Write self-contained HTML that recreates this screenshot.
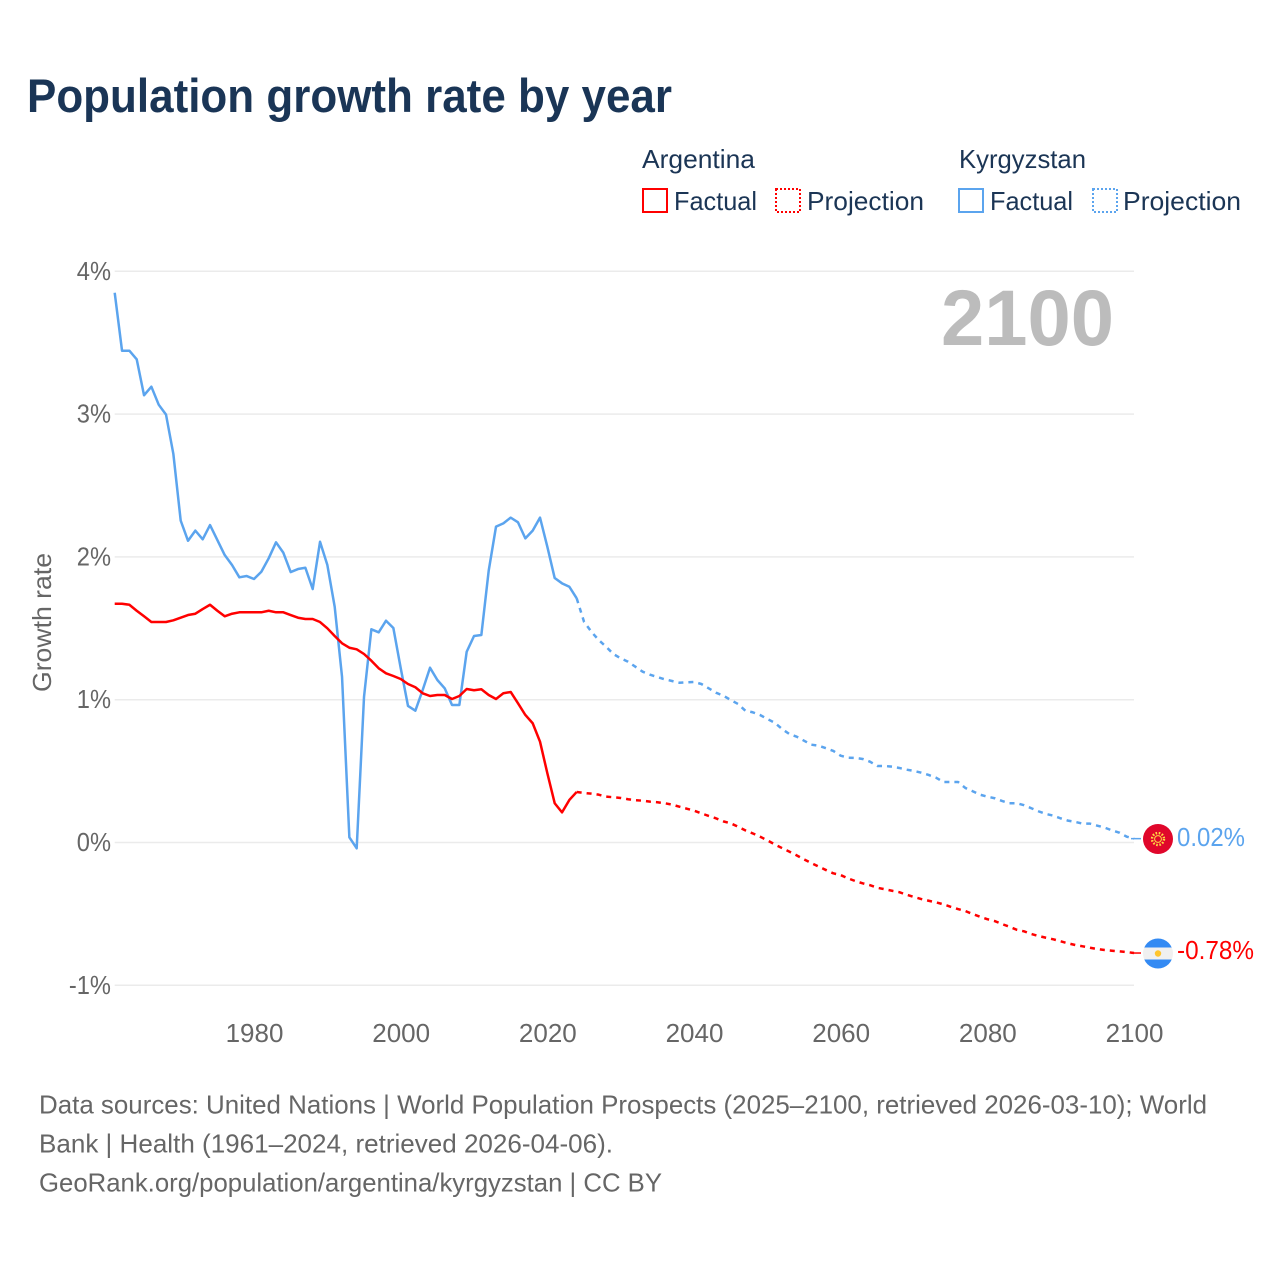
<!DOCTYPE html>
<html lang="en">
<head>
<meta charset="utf-8">
<title>Population growth rate by year</title>
<style>
html,body{margin:0;padding:0;background:#fff}
svg{display:block}
text{font-family:"Liberation Sans",sans-serif}
.leg{font-size:26px;fill:#1b3555}
.foot{font-size:26px;fill:#666}
.tick{font-size:26px;fill:#666}
</style>
</head>
<body>
<svg id="chart" xmlns="http://www.w3.org/2000/svg" width="1280" height="1280" viewBox="0 0 1280 1280">
  <rect width="1280" height="1280" fill="#fff"/>
  <text x="27" y="112" font-size="47" font-weight="700" fill="#1a3556" textLength="645" lengthAdjust="spacingAndGlyphs">Population growth rate by year</text>

  <g>
    <text class="leg" x="642" y="168" textLength="113" lengthAdjust="spacingAndGlyphs">Argentina</text>
    <rect x="643" y="189" width="24" height="23" fill="none" stroke="#ff0000" stroke-width="2"/>
    <text class="leg" x="674" y="210" textLength="83" lengthAdjust="spacingAndGlyphs">Factual</text>
    <rect x="776" y="189" width="24" height="23" fill="none" stroke="#ff0000" stroke-width="2" stroke-dasharray="2 2"/>
    <text class="leg" x="807" y="210" textLength="117" lengthAdjust="spacingAndGlyphs">Projection</text>
    <text class="leg" x="959" y="168" textLength="127" lengthAdjust="spacingAndGlyphs">Kyrgyzstan</text>
    <rect x="959" y="189" width="24" height="23" fill="none" stroke="#5ba4ee" stroke-width="2"/>
    <text class="leg" x="990" y="210" textLength="83" lengthAdjust="spacingAndGlyphs">Factual</text>
    <rect x="1093" y="189" width="24" height="23" fill="none" stroke="#5ba4ee" stroke-width="2" stroke-dasharray="2 2"/>
    <text class="leg" x="1123" y="210" textLength="118" lengthAdjust="spacingAndGlyphs">Projection</text>
  </g>

  <g id="grid"></g>
  <g id="yticks"></g>
  <g id="xticks"></g>
  <text transform="translate(51,622.5) rotate(-90)" text-anchor="middle" font-size="26" fill="#666" textLength="139" lengthAdjust="spacingAndGlyphs">Growth rate</text>
  <text x="941" y="345" font-size="79" font-weight="700" fill="#bcbcbc" textLength="173" lengthAdjust="spacingAndGlyphs">2100</text>

  <g id="series"></g>

  <g>
    <circle cx="1158" cy="839" r="15" fill="#e0072b"/>
    <circle cx="1158" cy="839" r="6" fill="none" stroke="#ffda44" stroke-width="2.4" stroke-dasharray="1.6 1.6"/>
    <circle cx="1158" cy="839" r="3.4" fill="none" stroke="#ffda44" stroke-width="1"/>
  </g>
  <g>
    <clipPath id="argClip"><circle cx="1158" cy="953.5" r="15"/></clipPath>
    <g clip-path="url(#argClip)">
      <rect x="1143" y="938" width="30" height="9.5" fill="#338af3"/>
      <rect x="1143" y="947.5" width="30" height="12" fill="#f0f0f0"/>
      <rect x="1143" y="959.5" width="30" height="10" fill="#338af3"/>
    </g>
    <circle cx="1158" cy="953.5" r="3.2" fill="#ffc52e"/>
  </g>
  <text x="1177" y="846" font-size="26" fill="#5ba4ee" textLength="68" lengthAdjust="spacingAndGlyphs">0.02%</text>
  <text x="1177" y="959" font-size="26" fill="#ff0000" textLength="77" lengthAdjust="spacingAndGlyphs">-0.78%</text>

  <g>
    <text class="foot" x="39" y="1113.5" textLength="1168" lengthAdjust="spacingAndGlyphs">Data sources: United Nations | World Population Prospects (2025–2100, retrieved 2026-03-10); World</text>
    <text class="foot" x="39" y="1152.5" textLength="574" lengthAdjust="spacingAndGlyphs">Bank | Health (1961–2024, retrieved 2026-04-06).</text>
    <text class="foot" x="39" y="1191.5" textLength="623" lengthAdjust="spacingAndGlyphs">GeoRank.org/population/argentina/kyrgyzstan | CC BY</text>
  </g>
</svg>

<script>
var factualStartYear = 1961;
var projectionStartYear = 2024;
var yTickValues = [4, 3, 2, 1, 0, -1];
var yTickLabels = ["4%", "3%", "2%", "1%", "0%", "-1%"];
var xTickYears = [1980, 2000, 2020, 2040, 2060, 2080, 2100];

var argentinaFactual = [
1.672,1.672,1.665,1.623,1.584,1.544,1.544,1.544,1.556,1.574,
1.593,1.602,1.635,1.665,1.623,1.584,1.602,1.612,1.612,1.612,
1.612,1.623,1.612,1.612,1.593,1.574,1.565,1.565,1.544,1.5,
1.446,1.395,1.364,1.353,1.32,1.273,1.22,1.185,1.166,1.145,
1.11,1.087,1.045,1.026,1.033,1.033,1.005,1.026,1.075,1.066,
1.073,1.033,1.005,1.045,1.054,0.975,0.893,0.835,0.706,0.485,
0.275,0.211,0.298,0.354];

var argentinaProjection = [
0.354,0.347,0.342,0.335,0.321,0.317,0.312,0.303,0.296,0.293,
0.286,0.282,0.275,0.265,0.251,0.237,0.223,0.204,0.186,0.169,
0.148,0.134,0.111,0.085,0.064,0.041,0.015,-0.013,-0.039,-0.064,
-0.09,-0.118,-0.144,-0.169,-0.193,-0.216,-0.228,-0.251,-0.27,-0.286,
-0.299,-0.317,-0.327,-0.338,-0.348,-0.366,-0.382,-0.396,-0.408,-0.419,
-0.433,-0.45,-0.466,-0.48,-0.501,-0.52,-0.537,-0.55,-0.571,-0.59,
-0.611,-0.622,-0.641,-0.655,-0.667,-0.678,-0.692,-0.706,-0.718,-0.727,
-0.737,-0.746,-0.753,-0.758,-0.762,-0.767,-0.774];

var kyrgyzstanFactual = [
3.85,3.444,3.444,3.384,3.132,3.192,3.066,2.996,2.721,2.254,
2.113,2.184,2.123,2.223,2.118,2.013,1.943,1.857,1.866,1.845,
1.896,1.99,2.102,2.029,1.894,1.915,1.924,1.775,2.106,1.943,
1.651,1.161,0.036,-0.041,1.021,1.493,1.472,1.553,1.502,1.222,
0.956,0.923,1.068,1.224,1.138,1.08,0.963,0.963,1.336,1.446,
1.453,1.903,2.212,2.235,2.275,2.242,2.13,2.184,2.275,2.071,
1.852,1.815,1.791,1.71];

var kyrgyzstanProjection = [
1.71,1.546,1.476,1.418,1.371,1.32,1.29,1.266,1.231,1.196,
1.175,1.159,1.143,1.131,1.119,1.122,1.124,1.11,1.08,1.049,
1.028,0.998,0.97,0.923,0.912,0.893,0.865,0.839,0.795,0.76,
0.741,0.713,0.685,0.678,0.66,0.641,0.608,0.594,0.592,0.585,
0.566,0.536,0.536,0.531,0.522,0.51,0.501,0.489,0.473,0.454,
0.424,0.424,0.424,0.382,0.359,0.335,0.321,0.31,0.291,0.275,
0.275,0.261,0.24,0.218,0.2,0.188,0.169,0.153,0.144,0.132,
0.132,0.118,0.104,0.085,0.069,0.041,0.027];

var SVGNS = "http://www.w3.org/2000/svg";
function xScale(year){ return 114.7 + (year - 1961) * (1134 - 114.7) / (2100 - 1961); }
function yScale(v){ return 842.5 - v * 142.8; }
function linePath(values, startYear){
  var d = "";
  for (var i = 0; i < values.length; i++){
    d += (i ? "L" : "M") + xScale(startYear + i).toFixed(2) + " " + yScale(values[i]).toFixed(2);
  }
  return d;
}
function addLine(name, values, startYear, color, dash){
  var p = document.createElementNS(SVGNS, "path");
  
  
  p.setAttribute("d", linePath(values, startYear));
  p.setAttribute("fill", "none");
  p.setAttribute("stroke", color);
  p.setAttribute("stroke-width", "2.5");
  p.setAttribute("stroke-linejoin", "round");
  if (dash) p.setAttribute("stroke-dasharray", dash);
  document.getElementById("series").appendChild(p);
}
function addLeader(name, value, color){
  var l = document.createElementNS(SVGNS, "line");
  
  
  l.setAttribute("x1", xScale(2100) - 3);
  l.setAttribute("x2", 1141);
  l.setAttribute("y1", yScale(value));
  l.setAttribute("y2", yScale(value));
  l.setAttribute("stroke", color);
  l.setAttribute("stroke-width", "1.5");
  document.getElementById("series").appendChild(l);
}

yTickValues.forEach(function(v, i){
  var g = document.createElementNS(SVGNS, "line");
  
  
  g.setAttribute("x1", xScale(1961));
  g.setAttribute("x2", xScale(2100));
  g.setAttribute("y1", yScale(v));
  g.setAttribute("y2", yScale(v));
  g.setAttribute("stroke", "#ebebeb");
  g.setAttribute("stroke-width", "1.5");
  document.getElementById("grid").appendChild(g);

  var t = document.createElementNS(SVGNS, "text");
  
  
  t.setAttribute("class", "tick");
  t.setAttribute("x", 111);
  t.setAttribute("y", yScale(v) + 8.5);
  t.setAttribute("text-anchor", "end");
  t.textContent = yTickLabels[i];
  document.getElementById("yticks").appendChild(t);
  t.setAttribute("textLength", (t.getComputedTextLength() * 0.91).toFixed(1));
  t.setAttribute("lengthAdjust", "spacingAndGlyphs");
});

xTickYears.forEach(function(y){
  var t = document.createElementNS(SVGNS, "text");
  
  
  t.setAttribute("class", "tick");
  t.setAttribute("x", xScale(y) + 0.5);
  t.setAttribute("y", 1042);
  t.setAttribute("text-anchor", "middle");
  t.textContent = String(y);
  document.getElementById("xticks").appendChild(t);
});

addLine("argentina-projection-line", argentinaProjection, projectionStartYear, "#ff0000", "5 5");
addLine("kyrgyzstan-projection-line", kyrgyzstanProjection, projectionStartYear, "#5ba4ee", "5 5");
addLine("kyrgyzstan-factual-line", kyrgyzstanFactual, factualStartYear, "#5ba4ee");
addLine("argentina-factual-line", argentinaFactual, factualStartYear, "#ff0000");
addLeader("kyrgyzstan-flag-leader", kyrgyzstanProjection[kyrgyzstanProjection.length - 1], "#5ba4ee");
addLeader("argentina-flag-leader", argentinaProjection[argentinaProjection.length - 1], "#ff0000");
</script>
</body>
</html>
